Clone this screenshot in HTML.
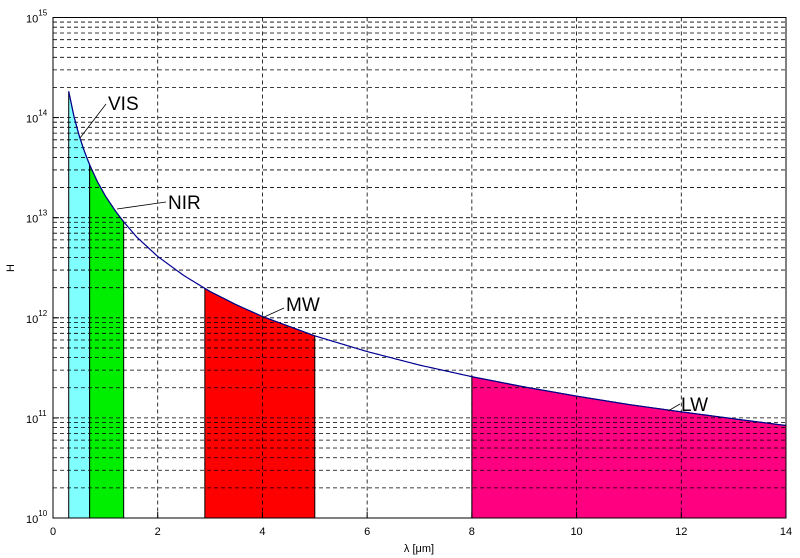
<!DOCTYPE html>
<html><head><meta charset="utf-8"><style>
body{margin:0;background:#fff;}
svg{display:block;font-family:"Liberation Sans",sans-serif;}
</style></head><body>
<svg id="chart" width="800" height="558" viewBox="0 0 800 558" xmlns="http://www.w3.org/2000/svg">
<g id="bands"></g>
<g id="grid"></g>
<g id="curve"></g>
<g id="axes"></g>
<g id="labels"></g>
</svg>
<script>
const lambdas=[0.3,0.4,0.5,0.6,0.7,0.85,1,1.2,1.35,1.6,2,2.5,3,3.5,4,5,6,7,8,9,10,11,12,13,14];
const hValues=[1.83e14,1.03e14,6.6e13,4.6e13,3.37e13,2.28e13,1.65e13,1.15e13,9.1e12,6.4e12,4.1e12,2.64e12,1.83e12,1.35e12,1.03e12,6.6e11,4.6e11,3.37e11,2.58e11,2.04e11,1.65e11,1.36e11,1.15e11,9.8e10,8.4e10];
const bandNames=["VIS","NIR","MW","LW"];
const bandStarts=[0.3,0.7,2.9,8];
const bandEnds=[0.7,1.35,5,14];
const bandColors=["#80ffff","#00ee00","#ff0000","#ff0080"];
const xTicks=[0,2,4,6,8,10,12,14];
const yExps=[10,11,12,13,14,15];
const NS="http://www.w3.org/2000/svg";
const L=53,R=786,T=17.5,B=518;
const xs=v=>L+(v-0)/14*(R-L);
const ys=v=>B-(Math.log10(v)-10)/5*(B-T);
function mk(tag,attrs,parent){const e=document.createElementNS(NS,tag);for(const k in attrs)e.setAttribute(k,attrs[k]);parent.appendChild(e);return e;}
function hAt(x){for(let i=0;i<lambdas.length-1;i++){if(x<=lambdas[i+1]){const t=(x-lambdas[i])/(lambdas[i+1]-lambdas[i]);return Math.pow(10,Math.log10(hValues[i])+t*(Math.log10(hValues[i+1])-Math.log10(hValues[i])));}}return hValues[hValues.length-1];}
const gB=document.getElementById('bands'),gG=document.getElementById('grid'),gC=document.getElementById('curve'),gA=document.getElementById('axes'),gL=document.getElementById('labels');
bandNames.forEach((n,i)=>{
  let pts=[[xs(bandStarts[i]),B]];
  const steps=40;
  for(let s=0;s<=steps;s++){const x=bandStarts[i]+(bandEnds[i]-bandStarts[i])*s/steps;pts.push([xs(x),ys(hAt(x))]);}
  pts.push([xs(bandEnds[i]),B]);
  const p=mk('polygon',{points:pts.map(p=>p.join(',')).join(' '),fill:bandColors[i],stroke:'#000','stroke-width':1},gB);
  
  
});
// grid
xTicks.forEach(v=>{if(v>0&&v<14){const l=mk('line',{x1:xs(v),x2:xs(v),y1:T,y2:B,stroke:'#000','stroke-width':0.8,'stroke-dasharray':'4,3'},gG);

}});
for(let e=10;e<15;e++){for(let m=1;m<10;m++){const v=m*Math.pow(10,e);if(e===10&&m===1)continue;const y=ys(v);
const l=mk('line',{x1:L,x2:R,y1:y,y2:y,stroke:'#000','stroke-width':0.8,'stroke-dasharray':'4,3'},gG);

}}
// curve
let d='';for(let s=0;s<=400;s++){const x=0.3+(14-0.3)*s/400;d+=(s?'L':'M')+xs(x).toFixed(2)+','+ys(hAt(x)).toFixed(2);}
const c=mk('path',{d:d,fill:'none',stroke:'#000090','stroke-width':1.2},gC);


// axes
const box=mk('rect',{x:L,y:T,width:R-L,height:B-T,fill:'none',stroke:'#000','stroke-width':1},gA);


xTicks.forEach(v=>{
  mk('line',{x1:xs(v),x2:xs(v),y1:B,y2:B-6,stroke:'#000'},gA);
  const t=mk('text',{x:xs(v),y:B+17,'font-size':11,'text-anchor':'middle'},gA);t.textContent=v;
  
  
});
yExps.forEach(e=>{
  const y=ys(Math.pow(10,e));
  mk('line',{x1:L,x2:L+6,y1:y,y2:y,stroke:'#000'},gA);
  const t=mk('text',{x:26,y:y+5,'font-size':11},gA);
  
  
  t.innerHTML='10<tspan dy="-7" font-size="8">'+e+'</tspan>';
});
const xl=mk('text',{x:419,y:552,'font-size':11,'text-anchor':'middle'},gA);xl.textContent='λ [μm]';


const yl=mk('text',{x:14,y:268,'font-size':11,'text-anchor':'middle',transform:'rotate(-90 14 268)'},gA);yl.textContent='H';


// annotations
const ann=[["VIS",80,138,106,104,108,110],["NIR",117,209,166,202,168,209],["MW",262,318,284,308,286,311],["LW",668,411,680,404,681,411]];
ann.forEach(a=>{
  mk('line',{x1:a[1],y1:a[2],x2:a[3],y2:a[4],stroke:'#000','stroke-width':0.8},gL);
  const t=mk('text',{x:a[5],y:a[6],'font-size':19},gL);t.textContent=a[0];
  
  
});
</script>
</body></html>
